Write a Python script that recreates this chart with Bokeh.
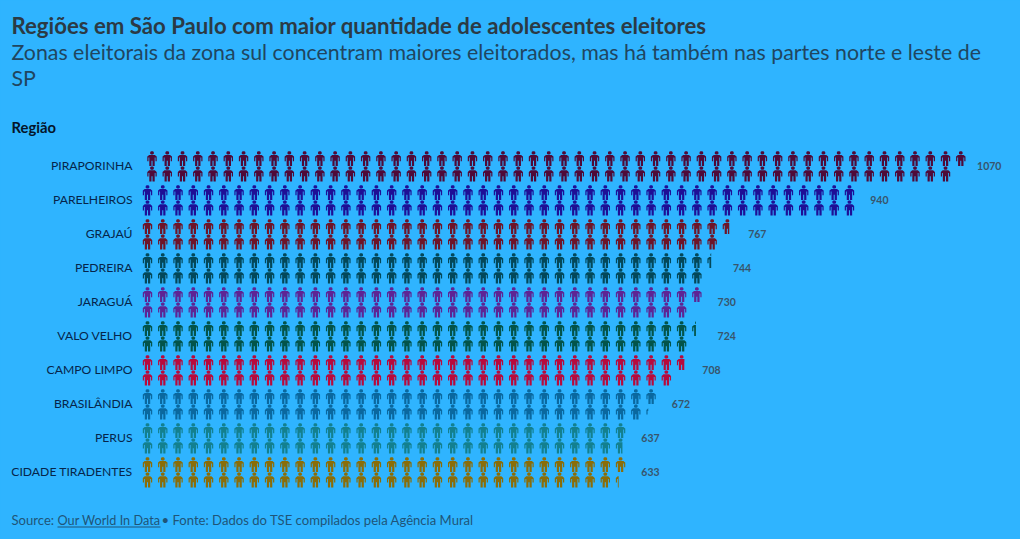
from bokeh.plotting import figure
from bokeh.models import ColumnDataSource, Label, Range1d
from bokeh.core.properties import value
from bokeh.embed import file_html
from bokeh.resources import INLINE

regions = ["PIRAPORINHA", "PARELHEIROS", "GRAJAÚ", "PEDREIRA", "JARAGUÁ", "VALO VELHO",
           "CAMPO LIMPO", "BRASILÂNDIA", "PERUS", "CIDADE TIRADENTES"]
values = [1070, 940, 767, 744, 730, 724, 708, 672, 637, 633]
colors = ["#4f0a38", "#1e0f96", "#6e1428", "#03485a", "#5e2494", "#03544a",
          "#b80a3c", "#0a689f", "#13808f", "#8a6d08"]
people_per_icon = 10

title = "Regiões em São Paulo com maior quantidade de adolescentes eleitores"
subtitle = ["Zonas eleitorais da zona sul concentram maiores eleitorados, mas há também nas partes norte e leste de", "SP"]
axis_title = "Região"
footer = ["Source: ", "Our World In Data", " • Fonte: Dados do TSE compilados pela Agência Mural"]

BG = "#2fb4ff"
FONT = "Lato"
W, H = 1020, 539
COL_PX, ROW_PX = 15.26, 34.0
X0, Y0 = 147.0, 166.0

def ux(px):
    return px / COL_PX

def uy(px):
    return px / ROW_PX

HEAD = [(-0.9, -7.6), (0.9, -7.6), (1.8, -6.7), (1.8, -5.3), (0.9, -4.4), (-0.9, -4.4), (-1.8, -5.3), (-1.8, -6.7)]
BODY = [(-2.8, -3.9), (2.8, -3.9), (4.7, -2.3), (4.7, 2.4), (3.5, 2.4), (3.5, -1.2), (2.7, -1.2), (2.7, 7.2),
        (0.5, 7.2), (0.5, 2.0), (-0.5, 2.0), (-0.5, 7.2), (-2.7, 7.2), (-2.7, -1.2), (-3.5, -1.2), (-3.5, 2.4),
        (-4.7, 2.4), (-4.7, -2.3)]

def clip(poly, xmax):
    out = []
    for i, a in enumerate(poly):
        b = poly[(i + 1) % len(poly)]
        ain, bin_ = a[0] <= xmax, b[0] <= xmax
        if ain:
            out.append(a)
        if ain != bin_:
            t = (xmax - a[0]) / (b[0] - a[0])
            out.append((xmax, a[1] + t * (b[1] - a[1])))
    return out

xs, ys, fills = [], [], []
lab_x, lab_y, lab_t = [], [], []
for r, (val, col) in enumerate(zip(values, colors)):
    icons = val / people_per_icon
    n = int(icons) + (1 if icons % 1 > 1e-9 else 0)
    shift = 4.5 if r == 0 else 0.0
    for k in range(n):
        c, s = k // 2, k % 2
        frac = min(1.0, icons - k)
        xmax = -4.7 + 9.4 * frac
        for shape in (HEAD, BODY):
            pts = clip(shape, xmax)
            if len(pts) < 3:
                continue
            xs.append([c + ux(shift + p[0]) for p in pts])
            ys.append([r + uy((7.7 if s else -7.7) + p[1]) for p in pts])
            fills.append(col)
    cols = (n + 1) // 2
    lab_x.append(cols + ux(5.5))
    lab_y.append(r - uy(1.0))
    lab_t.append(str(val))

p = figure(width=W, height=H, output_backend="svg", toolbar_location=None,
           x_range=Range1d(-X0 / COL_PX, (W - X0) / COL_PX),
           y_range=Range1d((H - Y0) / ROW_PX, -Y0 / ROW_PX),
           background_fill_color=BG, border_fill_color=BG, outline_line_color=None,
           min_border=0, x_axis_location=None, y_axis_location=None)
p.grid.visible = False

p.patches(xs="xs", ys="ys", fill_color="c", line_color=None,
          source=ColumnDataSource(dict(xs=xs, ys=ys, c=fills)))

p.text(x=[ux(132 - X0)] * len(regions), y=[r - uy(1.0) for r in range(len(regions))], text=regions,
       text_font=value(FONT), text_font_size="12.2px", text_color="#06254a",
       text_align="right", text_baseline="middle")
p.text(x=lab_x, y=lab_y, text=lab_t,
       text_font=value(FONT), text_font_style="bold", text_font_size="10.5px", text_color="#38556c",
       text_align="left", text_baseline="middle")

def put(text, px, py, size, color, style="normal"):
    p.add_layout(Label(x=px, y=H - py, x_units="screen", y_units="screen", text=text,
                       text_font=FONT, text_font_size=size, text_color=color, text_font_style=style,
                       text_baseline="alphabetic", text_align="left"))

put(title, 11, 25, "22.2px", "#2b3a45", "bold")
put(subtitle[0], 11, 51, "21.33px", "#20465f")
put(subtitle[1], 11, 77, "21.33px", "#20465f")
put(axis_title, 11, 126, "14.8px", "#04152a", "bold")
put(footer[0], 11, 519, "13.1px", "#1f5578")
put(footer[1], 57, 519, "12.7px", "#1f5578")
put(footer[2], 161, 519, "13.1px", "#1f5578")
p.segment(x0=[ux(57 - X0)], x1=[ux(160 - X0)], y0=[uy(526.5 - Y0)], y1=[uy(526.5 - Y0)],
          line_color="#1f5578", line_width=1)

html = file_html(p, INLINE).replace("</head>", f"<style>html,body{{background:{BG};overflow:hidden}}</style></head>")
open("out.html", "w").write(html)
